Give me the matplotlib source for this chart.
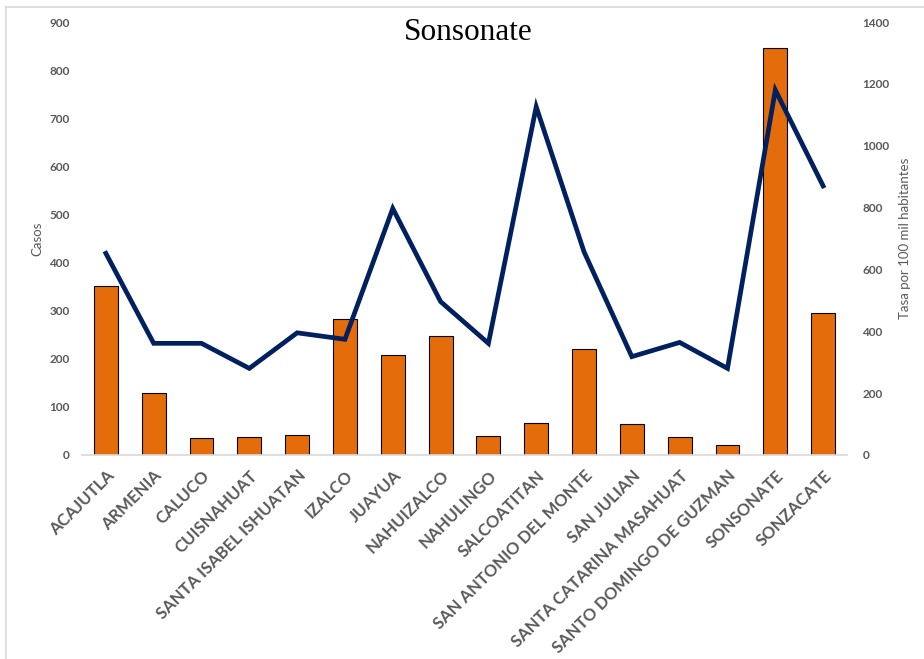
import matplotlib.pyplot as plt
from matplotlib.lines import Line2D

# Municipios del departamento de Sonsonate
municipios = ["ACAJUTLA", "ARMENIA", "CALUCO", "CUISNAHUAT",
              "SANTA ISABEL ISHUATAN", "IZALCO", "JUAYUA", "NAHUIZALCO",
              "NAHULINGO", "SALCOATITAN", "SAN ANTONIO DEL MONTE",
              "SAN JULIAN", "SANTA CATARINA MASAHUAT",
              "SANTO DOMINGO DE GUZMAN", "SONSONATE", "SONZACATE"]

# Casos acumulados por municipio
casos = [352, 128, 35, 37, 42, 282, 207, 247,
         40, 66, 220, 64, 38, 21, 847, 296]

# Tasa por 100 mil habitantes
tasa = [652, 361, 361, 280, 395, 374, 797, 496,
        361, 1126, 657, 318, 364, 280, 1180, 870]

gris = "#595959"
naranja = "#E46C0A"
azul = "#002060"

fig = plt.figure(figsize=(9.24, 6.59), dpi=100)
ax = fig.add_axes([0.0887, 0.3096, 0.828, 0.657])
ax2 = ax.twinx()

x = list(range(len(municipios)))
ax.bar(x, casos, width=0.5, color=naranja, edgecolor="black", linewidth=0.8)
ax2.plot(x, tasa, color=azul, linewidth=3.4, solid_joinstyle="miter")

ax.set_xlim(-0.5, len(municipios) - 0.5)
ax.set_ylim(0, 900)
ax.set_yticks(range(0, 901, 100))
ax2.set_ylim(0, 1400)
ax2.set_yticks(range(0, 1401, 200))

ax.set_xticks(x)
ax.set_xticklabels(municipios, rotation=45, ha="right", rotation_mode="anchor",
                   fontsize=12, fontweight="bold", family="Lato", color=gris)

for a in (ax, ax2):
    for s in a.spines.values():
        s.set_visible(False)
    a.tick_params(length=0)
ax.spines["bottom"].set_visible(True)
ax.spines["bottom"].set_color("#D9D9D9")
ax.spines["bottom"].set_linewidth(1.2)

ax.tick_params(axis="x", pad=9)
ax.tick_params(axis="y", pad=9)
ax2.tick_params(axis="y", pad=11)
for lab in ax.get_yticklabels() + ax2.get_yticklabels():
    lab.set_family("Lato")
    lab.set_fontweight("bold")
    lab.set_fontsize(8.5)
    lab.set_color(gris)

ax.set_ylabel("Casos", family="Lato", fontsize=9.5, color=gris, labelpad=4)
ax2.set_ylabel("Tasa por 100 mil habitantes", family="Lato", fontsize=9.5,
               color=gris, labelpad=7)

fig.text(0.507, 0.951, "Sonsonate", family="Liberation Serif", fontsize=22.5,
         ha="center", va="center", color="black")

# borde del area del grafico
fig.add_artist(Line2D([6 / 924, 6 / 924], [0, 1 - 6.5 / 659],
                      color="#D9D9D9", linewidth=1.2))
fig.add_artist(Line2D([6 / 924, 1], [1 - 6.5 / 659, 1 - 6.5 / 659],
                      color="#D9D9D9", linewidth=1.2))

fig.savefig("out.png", dpi=100)
